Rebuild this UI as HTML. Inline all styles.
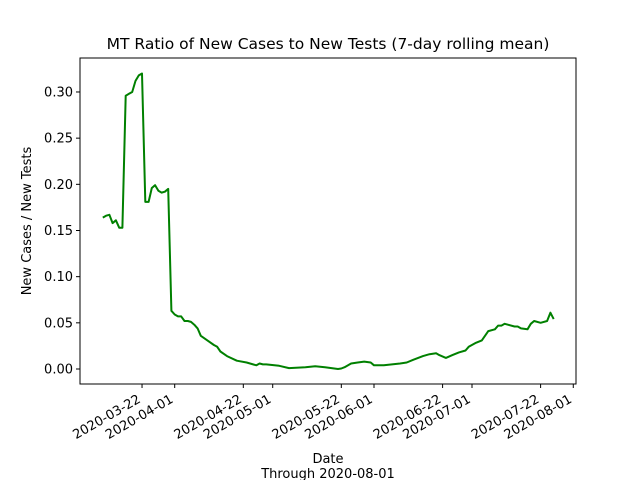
<!DOCTYPE html>
<html><head><meta charset="utf-8"><style>
body{margin:0;background:#fff}
svg{display:block;font-family:"DejaVu Sans","Liberation Sans",sans-serif}
</style></head><body>
<svg id="chart" width="640" height="480">
<rect width="640" height="480" fill="#fff"/>
<text x="328" y="49" font-size="15.5" text-anchor="middle">MT Ratio of New Cases to New Tests (7-day rolling mean)</text>
<text transform="translate(31,221) rotate(-90)" font-size="13" text-anchor="middle">New Cases / New Tests</text>
<text x="328" y="463" font-size="13" text-anchor="middle">Date</text>
<text x="328" y="478" font-size="13" text-anchor="middle">Through 2020-08-01</text>
<g id="yt"></g><g id="xt"></g>
<path id="line" fill="none" stroke="#008000" stroke-width="2" stroke-linejoin="round"/>
<rect x="80" y="58" width="496" height="326" fill="none" stroke="#000" stroke-width="1"/>
</svg>
<script>
// days relative to 2020-04-01
const days=[-22,-21,-20,-19,-18,-17,-16,-15,-14,-13,-12,-11,-10,-9,-8,-7,-6,-5,-4,-3,-2,-1,0,1,2,3,4,5,6,7,8,10,12,13,14,16,19,22,25,26,27,28,32,35,40,43,46,50,51,52,54,56,58,60,61,64,69,71,73,76,78,80,81,83,85,87,89,90,92,94,96,98,99,100,101,102,104,105,106,108,109,110,112,114,115,116];
const ratios=[0.164,0.166,0.167,0.158,0.161,0.153,0.153,0.296,0.298,0.300,0.312,0.318,0.320,0.181,0.181,0.196,0.199,0.193,0.191,0.192,0.195,0.063,0.059,0.057,0.057,0.052,0.052,0.051,0.048,0.044,0.036,0.031,0.026,0.024,0.019,0.014,0.009,0.007,0.004,0.006,0.005,0.005,0.0035,0.001,0.002,0.003,0.002,0.0,0.0005,0.002,0.006,0.007,0.008,0.007,0.004,0.004,0.006,0.007,0.010,0.014,0.016,0.017,0.015,0.012,0.015,0.018,0.020,0.024,0.028,0.031,0.041,0.043,0.047,0.047,0.049,0.048,0.046,0.046,0.044,0.043,0.049,0.052,0.050,0.052,0.061,0.054];
const yTicks=[0,0.05,0.10,0.15,0.20,0.25,0.30];
const yTickLabels=["0.00","0.05","0.10","0.15","0.20","0.25","0.30"];
const xTickDays=[-10,0,21,30,51,61,82,91,112,122];
const xTickLabels=["2020-03-22","2020-04-01","2020-04-22","2020-05-01","2020-05-22","2020-06-01","2020-06-22","2020-07-01","2020-07-22","2020-08-01"];
const NS="http://www.w3.org/2000/svg";
const X=d=>174.7+d*3.267;
const Y=v=>369-v*923.4;
const yt=document.getElementById('yt'),xt=document.getElementById('xt');
yTicks.forEach((v,i)=>{
 const l=document.createElementNS(NS,'line');
 l.setAttribute('x1',76);l.setAttribute('x2',80);l.setAttribute('y1',Y(v));l.setAttribute('y2',Y(v));l.setAttribute('stroke','#000');
 
 
 yt.appendChild(l);
 const t=document.createElementNS(NS,'text');
 t.setAttribute('x',73);t.setAttribute('y',Y(v)+4.5);t.setAttribute('font-size','13');t.setAttribute('text-anchor','end');
 t.textContent=yTickLabels[i];
 
 
 yt.appendChild(t);
});
xTickDays.forEach((d,i)=>{
 const x=X(d);
 const l=document.createElementNS(NS,'line');
 l.setAttribute('x1',x);l.setAttribute('x2',x);l.setAttribute('y1',384);l.setAttribute('y2',388);l.setAttribute('stroke','#000');
 
 
 xt.appendChild(l);
 const t=document.createElementNS(NS,'text');
 t.setAttribute('transform','translate('+(x-5)+',394) rotate(-30)');
 t.setAttribute('font-size','13');t.setAttribute('text-anchor','end');t.setAttribute('dominant-baseline','hanging');
 t.textContent=xTickLabels[i];
 
 
 xt.appendChild(t);
});
document.getElementById('line').setAttribute('d',days.map((d,i)=>(i?'L':'M')+X(d).toFixed(1)+','+Y(ratios[i]).toFixed(1)).join(''));
</script>
</body></html>
